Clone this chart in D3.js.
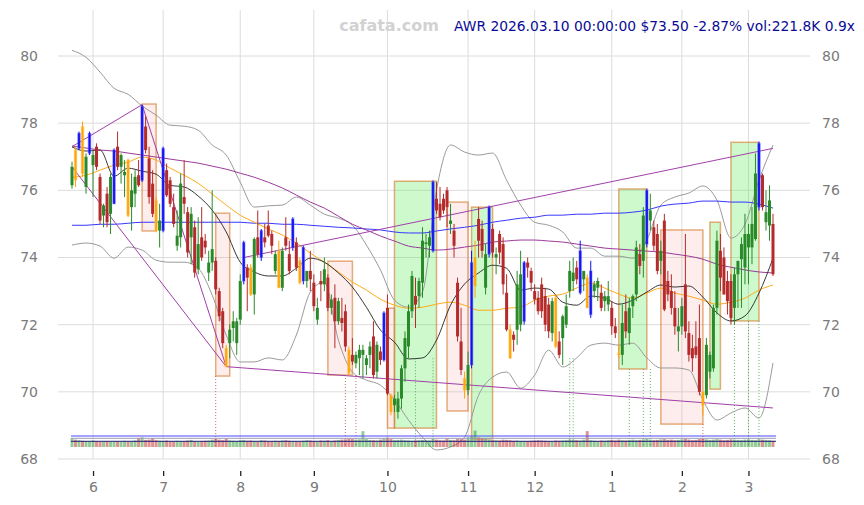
<!DOCTYPE html>
<html lang="en">
<head>
<meta charset="UTF-8" />
<title>AWR</title>
<script src="https://cdn.jsdelivr.net/npm/d3@7"></script>
<style>
  body { margin: 0; background: #fff; }
  svg { display: block; font-family: "DejaVu Sans", sans-serif; }
</style>
</head>
<body>
<svg id="chart" width="864" height="505"></svg>
<script>
// ---- data ----
const firstDay = "2025-05-22";
const holidays = ["2025-05-26", "2025-06-19", "2025-07-04", "2025-09-01", "2025-11-27",
  "2025-12-25", "2026-01-01", "2026-01-19", "2026-02-16"];
const nDays = 201;
const tickLabels = ["6", "7", "8", "9", "10", "11", "12", "1", "2", "3"];
const yTicks = [68, 70, 72, 74, 76, 78, 80];

const opens = [76.15,77.20,77.25,77.90,76.10,77.10,76.75,77.30,76.40,75.25,
  75.90,75.30,75.60,77.30,76.70,76.45,76.90,75.50,75.90,76.45,
  76.30,77.90,76.95,76.20,75.70,74.80,74.80,76.60,76.30,75.50,
  74.35,74.60,75.80,75.35,74.60,74.90,73.65,74.60,74.50,73.55,
  73.85,73.90,73.00,72.40,71.30,71.45,71.90,71.45,72.15,73.30,
  73.70,73.70,72.90,74.60,74.00,74.60,74.95,74.70,73.60,74.20,
  73.10,74.60,74.10,74.30,74.45,73.90,73.30,73.30,73.60,73.25,
  72.15,73.30,73.20,73.40,72.50,72.80,72.10,72.20,72.40,71.25,
  71.10,70.85,71.00,71.10,70.80,71.10,71.65,70.60,71.20,70.95,
  72.50,69.90,69.60,69.40,69.80,70.70,71.35,72.40,72.85,72.85,
  73.25,74.40,74.35,74.20,75.75,75.60,75.75,76.00,75.00,74.80,
  73.25,71.50,70.40,70.05,70.80,73.15,75.15,74.85,73.10,74.10,
  74.85,74.00,74.70,74.40,72.95,71.85,71.70,71.85,72.00,72.10,
  73.85,73.60,73.00,72.80,73.20,72.85,72.60,71.75,72.80,71.50,
  71.60,72.00,73.00,73.30,73.70,72.95,73.35,73.40,72.30,73.00,
  73.10,72.95,72.70,72.60,72.50,71.95,71.15,71.10,72.40,71.75,
  72.55,72.90,74.10,73.90,74.40,75.10,74.90,74.70,73.90,75.10,
  73.30,73.00,72.50,71.80,71.95,73.20,71.75,71.30,71.35,71.60,
  70.00,69.90,70.60,70.70,72.50,74.20,74.00,73.30,73.30,72.50,
  73.50,73.95,73.70,74.30,74.30,74.55,75.50,76.45,75.05,74.95,
  75.00];
const highs = [76.85,77.30,77.75,78.05,77.10,77.75,77.20,77.40,76.50,75.60,
  76.10,76.50,77.25,77.75,77.10,76.90,76.95,76.50,76.60,76.90,
  78.55,78.20,77.30,76.60,75.80,75.60,77.30,76.80,76.40,75.90,
  75.40,76.50,76.90,75.50,75.50,75.10,75.20,75.50,74.70,74.20,
  76.00,74.00,73.10,72.50,71.40,72.00,72.40,72.20,73.50,74.50,
  73.80,73.80,74.60,75.40,74.85,75.00,75.40,74.80,74.20,74.50,
  74.30,75.20,74.50,75.20,74.60,74.00,74.35,73.60,74.20,73.50,
  72.80,73.60,74.00,73.50,72.90,73.20,72.80,72.80,72.60,71.35,
  71.60,71.20,71.40,71.40,71.10,71.50,72.10,71.50,71.35,72.40,
  72.90,69.95,69.90,70.00,70.80,71.80,72.60,73.60,73.40,73.40,
  74.90,74.70,74.80,76.30,76.25,76.10,75.90,76.10,75.60,75.00,
  73.40,72.50,70.60,71.20,74.20,74.50,75.50,75.10,74.40,75.55,
  75.00,74.30,74.80,74.60,73.50,72.00,71.80,73.60,74.20,73.90,
  74.00,73.70,73.20,73.00,73.40,73.10,72.80,72.80,72.90,71.80,
  72.30,72.90,73.90,74.00,73.90,74.50,73.60,73.50,73.90,73.30,
  73.40,73.20,73.00,73.30,72.70,72.20,71.40,72.60,72.90,72.80,
  72.90,74.50,74.40,75.50,76.05,75.90,75.10,75.00,74.50,75.30,
  73.60,73.50,73.00,72.50,72.80,74.70,72.10,71.70,72.10,72.60,
  70.00,71.60,71.20,72.60,74.80,74.70,74.30,73.60,73.50,73.70,
  73.90,74.60,75.30,75.00,75.50,77.10,77.45,76.50,76.00,76.15,
  75.30];
const lows = [76.05,76.10,77.20,76.40,75.90,77.05,75.80,76.60,75.00,74.90,
  74.90,74.70,75.60,76.60,76.20,75.80,75.20,74.80,75.50,76.10,
  76.25,77.10,75.60,75.20,74.75,74.30,74.75,75.80,75.50,74.90,
  74.20,74.30,75.30,74.00,73.80,73.40,73.50,73.90,74.10,73.30,
  73.60,72.90,72.10,71.30,70.75,71.00,71.50,71.10,72.00,73.20,
  72.40,72.85,72.30,74.00,73.90,74.30,74.60,74.10,73.50,73.10,
  73.00,74.20,73.50,74.20,73.60,73.20,73.20,73.10,73.00,72.40,
  72.00,72.70,73.00,72.40,72.30,71.30,72.00,71.80,71.20,70.50,
  70.80,70.70,70.50,70.40,70.50,70.70,70.40,70.40,70.80,70.90,
  69.90,69.30,69.40,69.20,69.50,70.30,71.00,72.20,71.90,72.50,
  72.80,74.00,74.00,74.15,75.30,75.10,75.30,74.90,74.70,74.00,
  71.50,70.50,69.80,69.90,70.70,72.80,74.00,74.00,72.90,74.00,
  74.00,73.50,73.80,72.90,71.80,71.00,71.20,71.40,71.80,72.00,
  73.40,73.00,72.60,72.30,72.20,71.80,71.60,71.50,71.30,71.00,
  70.80,71.90,72.80,73.00,73.20,72.90,73.00,72.50,72.20,72.80,
  72.70,72.40,72.40,72.40,71.70,71.60,71.00,70.80,71.60,71.40,
  72.20,72.70,73.50,73.40,74.30,74.80,74.20,73.50,73.50,72.40,
  72.70,72.30,71.70,71.20,71.70,71.60,70.90,70.60,71.00,69.90,
  69.30,69.80,70.40,70.60,72.30,73.00,72.90,72.30,72.00,72.00,
  72.50,72.50,73.20,73.20,73.80,74.50,75.40,75.40,74.80,74.50,
  73.45];
const closes = [76.70,76.30,77.70,76.50,77.00,77.70,77.05,76.70,75.10,75.55,
  75.05,76.40,77.20,76.70,77.05,76.55,75.25,76.00,76.40,76.15,
  78.50,77.20,75.80,75.30,74.80,75.10,77.25,75.85,75.60,75.00,
  74.65,76.20,75.60,74.15,75.30,73.55,74.40,74.00,74.30,73.85,
  74.25,73.05,72.25,71.45,70.75,71.85,72.10,72.10,73.30,74.45,
  73.40,72.90,74.55,74.10,74.80,74.45,74.65,74.35,74.10,73.10,
  74.20,74.35,73.60,75.15,73.70,73.25,74.30,73.60,73.35,72.55,
  72.50,73.20,73.65,72.50,72.75,72.10,72.70,72.05,71.35,70.55,
  70.90,71.10,71.25,71.25,71.00,71.35,70.50,71.40,70.95,72.35,
  69.95,69.40,69.80,69.80,70.70,71.60,72.40,73.45,72.60,73.30,
  74.50,74.45,74.60,76.25,75.40,75.20,75.40,75.50,75.10,74.35,
  71.65,70.65,70.05,70.80,73.85,74.00,74.50,74.20,74.10,75.50,
  74.15,74.10,74.15,73.20,71.85,71.00,71.55,73.20,73.50,73.85,
  73.70,73.25,72.75,72.40,72.40,72.00,71.80,72.70,71.35,71.10,
  72.25,72.55,73.60,73.55,73.35,74.20,73.60,72.50,73.60,73.20,
  73.30,72.50,72.85,72.85,71.95,71.75,71.10,72.05,71.80,72.50,
  72.85,74.30,73.75,75.25,76.00,75.40,74.35,73.60,74.20,72.45,
  72.90,72.50,71.95,71.95,72.55,71.80,71.10,71.00,71.10,70.00,
  69.60,71.40,71.10,72.50,74.50,73.40,72.90,72.70,72.20,73.50,
  73.90,74.40,74.70,74.70,75.00,76.50,77.40,75.50,75.35,75.70,
  73.50];
// volume in thousands
const volumes = [300,260,240,220,210,200,230,210,190,200,
  210,180,190,200,190,220,200,210,230,320,
  340,250,260,310,240,220,210,230,200,190,
  220,200,210,230,250,200,190,210,220,230,
  260,280,260,240,300,230,220,210,240,250,
  220,230,210,200,240,230,210,200,220,210,
  230,240,220,200,210,190,220,240,230,210,
  200,230,220,240,210,230,250,260,270,300,
  280,260,270,560,280,250,240,230,260,300,
  330,280,240,250,260,240,230,220,230,240,
  250,240,230,280,260,240,230,300,250,240,
  300,280,260,340,360,580,340,300,280,260,
  250,240,230,260,250,240,220,230,210,200,
  210,220,230,240,230,220,210,200,230,220,
  230,240,260,250,240,230,260,560,240,220,
  210,230,220,240,250,230,260,240,230,250,
  260,240,250,270,290,260,240,250,270,280,
  250,260,240,250,270,300,260,240,250,280,
  300,270,250,260,280,260,240,250,270,260,
  250,240,260,270,250,240,280,260,250,240,
  222];
const volumeLevels = [388, 307, 201];
const volumeLevelColors = ["#4a4aff", "#9a9ab8", "#1c1c7a"];

const blueIdx = [2,5,12,20,26,49,54,63,66,89,103,114,119,129,145,148,164,196];
const orangeIdx = [1,3,16,24,44,51,59,65,79,91,112,115,125,138,147,156,180];

// moving averages and bands, sampled every 4th day
const lineStep = 4;
const ma20 = [77.29,77.17,77.20,76.42,76.66,76.57,76.48,76.15,76.10,75.83,
  75.41,74.76,73.86,73.57,73.45,73.45,73.68,73.98,73.86,73.54,
  73.12,72.52,71.84,71.48,70.98,71.01,71.54,72.58,73.21,73.54,
  73.77,73.68,73.03,73.09,73.06,72.67,72.58,72.85,72.79,72.61,
  72.73,72.97,73.18,73.12,73.15,72.82,72.35,72.11,72.26,72.94,73.98];
const bandUpper = [80.17,79.96,79.52,79.04,78.86,78.51,78.24,77.94,77.91,77.79,
  77.35,77.05,76.24,75.50,75.54,75.56,75.80,75.56,75.29,75.17,
  74.96,74.37,73.63,72.73,72.52,72.97,76.01,77.35,77.14,77.05,
  77.11,76.30,75.56,75.05,74.96,74.76,74.28,74.28,74.04,74.04,
  73.98,74.52,75.56,75.80,75.92,76.13,75.71,74.58,74.99,76.30,77.35];
const bandLower = [74.37,74.43,74.34,73.98,74.31,74.22,73.92,73.86,73.86,73.68,
  72.88,71.69,70.89,70.89,71.01,70.95,71.69,72.97,73.27,71.54,
  70.59,70.35,70.20,69.76,69.16,68.65,68.27,68.36,68.65,69.90,
  70.44,70.59,70.11,70.50,71.24,70.74,71.01,71.39,71.45,71.39,
  71.45,71.01,70.71,70.71,70.65,69.76,69.16,69.37,69.52,69.22,70.86];
const ma50 = [76.39,76.45,76.60,76.75,76.84,76.99,76.90,76.66,76.45,76.21,
  75.89,75.56,75.26,75.05,74.85,74.67,74.43,74.13,73.86,73.57,
  73.27,73.03,72.76,72.58,72.49,72.52,72.61,72.67,72.58,72.43,
  72.43,72.49,72.52,72.73,72.85,72.91,73.09,73.24,73.09,72.91,
  72.79,72.94,73.09,72.94,72.85,72.73,72.61,72.67,72.79,73.03,73.18];
const ma100 = [77.32,77.26,77.20,77.17,77.11,77.05,76.99,76.93,76.87,76.81,
  76.72,76.63,76.51,76.39,76.24,76.07,75.86,75.65,75.47,75.23,
  74.99,74.82,74.64,74.49,74.34,74.28,74.22,74.25,74.31,74.37,
  74.46,74.49,74.52,74.52,74.49,74.46,74.40,74.34,74.28,74.25,
  74.22,74.19,74.16,74.10,74.04,73.95,73.80,73.71,73.63,73.57,73.54];
const ma200 = [74.96,74.96,74.99,74.99,75.02,75.05,75.05,75.05,75.05,75.05,
  75.05,75.05,75.05,75.02,75.02,74.99,74.99,74.96,74.93,74.90,
  74.88,74.85,74.82,74.76,74.73,74.73,74.79,74.85,74.90,74.96,
  75.05,75.11,75.17,75.20,75.26,75.26,75.29,75.29,75.32,75.32,
  75.35,75.41,75.53,75.59,75.62,75.68,75.68,75.65,75.65,75.59,75.47];

// trend lines: [from day, from price, to day, to price]
const trendFrom = [0, 20, 0, 44, 49];
const trendFromPrice = [77.30, 78.55, 76.70, 70.75, 74.00];
const trendTo = [20, 44, 44, 200, 200];
const trendToPrice = [78.55, 70.75, 70.75, 69.52, 77.25];

// zones
const boxStart = [20, 41, 73, 90, 92, 107, 114, 156, 168, 182, 188];
const boxEnd = [24, 45, 80, 92, 104, 113, 120, 164, 180, 185, 196];
const boxTop = [78.57, 75.32, 73.89, 72.49, 76.27, 75.65, 75.50, 76.04, 74.82, 75.05, 77.43];
const boxBottom = [74.79, 70.47, 70.50, 68.92, 68.92, 69.43, 68.60, 70.68, 69.04, 70.08, 72.11];
const boxKind = ["dn", "dn", "dn", "dn", "up", "dn", "up", "up", "dn", "up", "up"];

// dotted markers
const dotIdx = [41, 78, 81, 98, 103, 142, 143, 159, 163, 165, 180, 189, 193, 196];
const dotFrom = [70.47, 70.50, 70.50, 71.0, 71.0, 71.0, 71.0, 70.68, 70.68, 70.68, 69.04, 72.11, 72.11, 72.11];
const dotKind = ["dn", "dn", "dn", "up", "up", "up", "up", "up", "up", "up", "dn", "up", "up", "up"];

// ---- trading days ----
let dates = [];
let d = new Date(firstDay + "T12:00:00Z");
while (dates.length < nDays) {
  let s = d.toISOString().slice(0, 10);
  let wd = d.getUTCDay();
  if (wd !== 0 && wd !== 6 && !holidays.includes(s)) dates.push(s);
  d = new Date(d.getTime() + 86400000);
}
let monthStarts = dates.filter((s, i) => i > 0 && s.slice(5, 7) !== dates[i - 1].slice(5, 7));

// ---- scales ----
let svg = d3.select("#chart");
let x = d3.scalePoint().domain(dates).range([72, 773]);
let y = d3.scaleLinear().domain([68, 80]).range([459, 56]);
let yVol = d3.scaleLinear().domain([0, 600]).range([447, 430]);
let xi = (i) => x(dates[i]);

// grid
svg.append("g").selectAll("line").data(yTicks).join("line")
  .attr("x1", 58).attr("x2", 810)
  .attr("y1", (v) => y(v)).attr("y2", (v) => y(v))
  .style("stroke", "#dcdcdc").style("stroke-width", 1);
svg.append("g").selectAll("line").data(monthStarts).join("line")
  .attr("x1", (s) => x(s)).attr("x2", (s) => x(s))
  .attr("y1", 10).attr("y2", 459)
  .style("stroke", "#dcdcdc").style("stroke-width", 1);

// axes
let leftAxis = svg.append("g").attr("transform", "translate(38,0)")
  .call(d3.axisLeft(y).tickValues(yTicks).tickSize(0).tickPadding(0));
let rightAxis = svg.append("g").attr("transform", "translate(822,0)")
  .call(d3.axisRight(y).tickValues(yTicks).tickSize(0).tickPadding(0));
let bottomAxis = svg.append("g").attr("transform", "translate(0,471)")
  .call(d3.axisBottom(x).tickValues(monthStarts)
    .tickFormat((s, i) => tickLabels[i]).tickSize(5).tickPadding(6));
[leftAxis, rightAxis, bottomAxis].forEach((g) => {
  g.select(".domain").remove();
  g.selectAll("text").style("font-size", "14px").style("fill", "#7a7a7a")
    .style("font-family", "DejaVu Sans, sans-serif");
});
bottomAxis.selectAll("line").style("stroke", "#222").style("stroke-width", 1.3);

// zones
svg.append("g").selectAll("rect").data(boxStart).join("rect")
  .attr("x", (s) => xi(s))
  .attr("width", (s, i) => xi(boxEnd[i]) - xi(s))
  .attr("y", (s, i) => y(boxTop[i]))
  .attr("height", (s, i) => y(boxBottom[i]) - y(boxTop[i]))
  .style("fill", (s, i) => boxKind[i] === "up" ? "rgba(90,235,90,0.3)" : "rgba(245,150,150,0.17)")
  .style("stroke", "rgba(214,120,40,0.6)")
  .style("stroke-width", 1.5);

// dotted markers
svg.append("g").selectAll("line").data(dotIdx).join("line")
  .attr("x1", (v) => xi(v)).attr("x2", (v) => xi(v))
  .attr("y1", (v, i) => y(dotFrom[i])).attr("y2", 447)
  .style("stroke", (v, i) => dotKind[i] === "up" ? "#3aa03a" : "#c04040")
  .style("stroke-width", 0.8)
  .style("stroke-dasharray", "1,2");

// lines
let lineIdx = d3.range(0, nDays, lineStep);
function drawLine(values, color, width) {
  let line = d3.line()
    .x((v, i) => xi(lineIdx[i]))
    .y((v) => y(v))
    .curve(d3.curveMonotoneX);
  svg.append("path").datum(values).attr("d", line)
    .style("fill", "none").style("stroke", color).style("stroke-width", width);
}
drawLine(bandUpper, "#9a9a9a", 1);
drawLine(bandLower, "#9a9a9a", 1);
drawLine(ma200, "#3636ff", 1);
drawLine(ma100, "#9a3a9a", 1);
drawLine(ma50, "#ffab1a", 1);
drawLine(ma20, "#222", 0.9);

// trend lines
svg.append("g").selectAll("line").data(trendFrom).join("line")
  .attr("x1", (s) => xi(s)).attr("y1", (s, i) => y(trendFromPrice[i]))
  .attr("x2", (s, i) => xi(trendTo[i])).attr("y2", (s, i) => y(trendToPrice[i]))
  .style("stroke", "#a040a8").style("stroke-width", 1);

// candles
function candleColor(i) {
  if (blueIdx.includes(i)) return "#1010ee";
  if (orangeIdx.includes(i)) return "#ffa500";
  return closes[i] >= opens[i] ? "#2a8a2a" : "#b52a2a";
}
let candles = svg.append("g").selectAll("g").data(dates).join("g");
candles.append("line")
  .attr("x1", (s) => x(s)).attr("x2", (s) => x(s))
  .attr("y1", (s, i) => y(highs[i])).attr("y2", (s, i) => y(lows[i]))
  .style("stroke", (s, i) => candleColor(i)).style("stroke-width", 1);
candles.append("rect")
  .attr("x", (s, i) => x(s) - (candleColor(i) === "#1010ee" || candleColor(i) === "#ffa500" ? 1.2 : 1.5))
  .attr("width", (s, i) => candleColor(i) === "#1010ee" || candleColor(i) === "#ffa500" ? 2.4 : 3)
  .attr("y", (s, i) => y(Math.max(opens[i], closes[i])))
  .attr("height", (s, i) => Math.max(1, Math.abs(y(opens[i]) - y(closes[i]))))
  .style("fill", (s, i) => candleColor(i))
  .style("stroke", (s, i) => candleColor(i) === "#1010ee" ? "rgba(90,90,255,0.35)"
    : candleColor(i) === "#ffa500" ? "rgba(255,190,90,0.35)" : "none")
  .style("stroke-width", 1.4);

// volume
svg.append("g").selectAll("rect").data(dates).join("rect")
  .attr("x", (s) => x(s) - 1.5).attr("width", 3)
  .attr("y", (s, i) => yVol(volumes[i]))
  .attr("height", (s, i) => yVol(0) - yVol(volumes[i]))
  .style("fill", (s, i) => closes[i] >= opens[i] ? "rgba(46,150,46,0.5)" : "rgba(190,40,40,0.5)");
svg.append("g").selectAll("line").data(volumeLevels).join("line")
  .attr("x1", 71).attr("x2", 776)
  .attr("y1", (v) => yVol(v)).attr("y2", (v) => yVol(v))
  .style("stroke", (v, i) => volumeLevelColors[i]).style("stroke-width", 1);

// header
svg.append("text").attr("x", 389).attr("y", 31).attr("text-anchor", "middle")
  .style("font-size", "16px").style("font-weight", "bold").style("fill", "#d2d2d2")
  .text("cafata.com");
svg.append("text").attr("x", 855).attr("y", 31).attr("text-anchor", "end")
  .attr("textLength", 401).attr("lengthAdjust", "spacingAndGlyphs")
  .style("font-size", "13.5px").style("fill", "#0a0a96")
  .text("AWR 2026.03.10 00:00:00 $73.50 -2.87% vol:221.8K 0.9x");
</script>
</body>
</html>
